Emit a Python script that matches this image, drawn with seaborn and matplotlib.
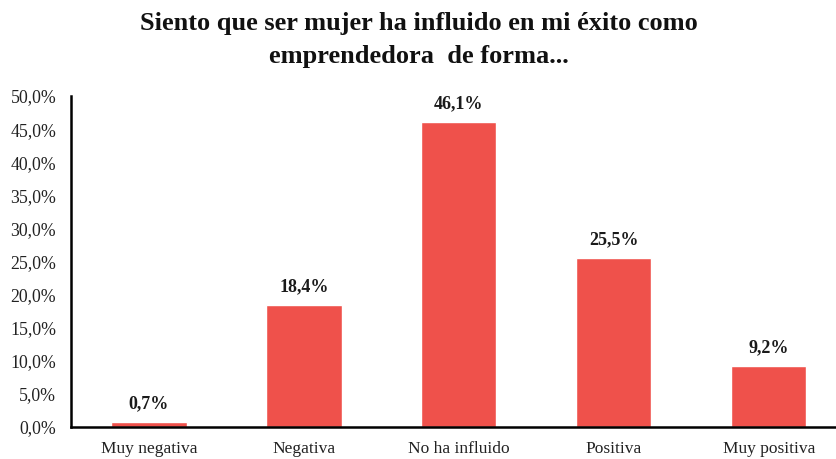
import matplotlib
matplotlib.use("Agg")
import matplotlib.pyplot as plt
import seaborn as sns
import pandas as pd
from matplotlib.ticker import FuncFormatter

categorias = ["Muy negativa", "Negativa", "No ha influido", "Positiva", "Muy positiva"]
porcentajes = [0.7, 18.4, 46.1, 25.5, 9.2]
titulo = "Siento que ser mujer ha influido en mi éxito como\nemprendedora  de forma..."

df = pd.DataFrame({"categoria": categorias, "pct": porcentajes})

sns.set_theme(style="white")
plt.rcParams["font.family"] = ["Liberation Serif", "DejaVu Serif"]

fig = plt.figure(figsize=(8.37, 4.59), dpi=100)
ax = fig.add_axes([71.5 / 837, 1 - 427 / 459, (837 - 71.5) / 837, (427 - 96) / 459])

sns.barplot(data=df, x="categoria", y="pct", color="#EF514B", saturation=1, width=0.485, ax=ax)

# etiquetas sobre las barras
for i, v in enumerate(porcentajes):
    ax.text(i, v + 1.5, f"{v:.1f}%".replace(".", ","), ha="center", va="bottom",
            fontsize=13, fontweight="bold", color="#1a1a1a")

ax.set_ylim(0, 50)
ax.set_xlim(-0.5, 4.44)
ax.set_yticks(range(0, 51, 5))
ax.yaxis.set_major_formatter(FuncFormatter(lambda y, _: f"{y:.1f}%".replace(".", ",")))
ax.set_xlabel("")
ax.set_ylabel("")
ax.tick_params(axis="both", colors="#222222", length=0)
ax.tick_params(axis="x", labelsize=12.5, pad=10)
ax.tick_params(axis="y", labelsize=12.8, pad=11)

for s in ["top", "right"]:
    ax.spines[s].set_visible(False)
for s in ["left", "bottom"]:
    ax.spines[s].set_color("black")
    ax.spines[s].set_linewidth(1.8)

fig.text(0.5, 1 - 40 / 459, titulo, ha="center", va="center", fontsize=19, fontweight="bold",
         linespacing=1.55, color="#111111")

fig.savefig("out.png", dpi=100)
